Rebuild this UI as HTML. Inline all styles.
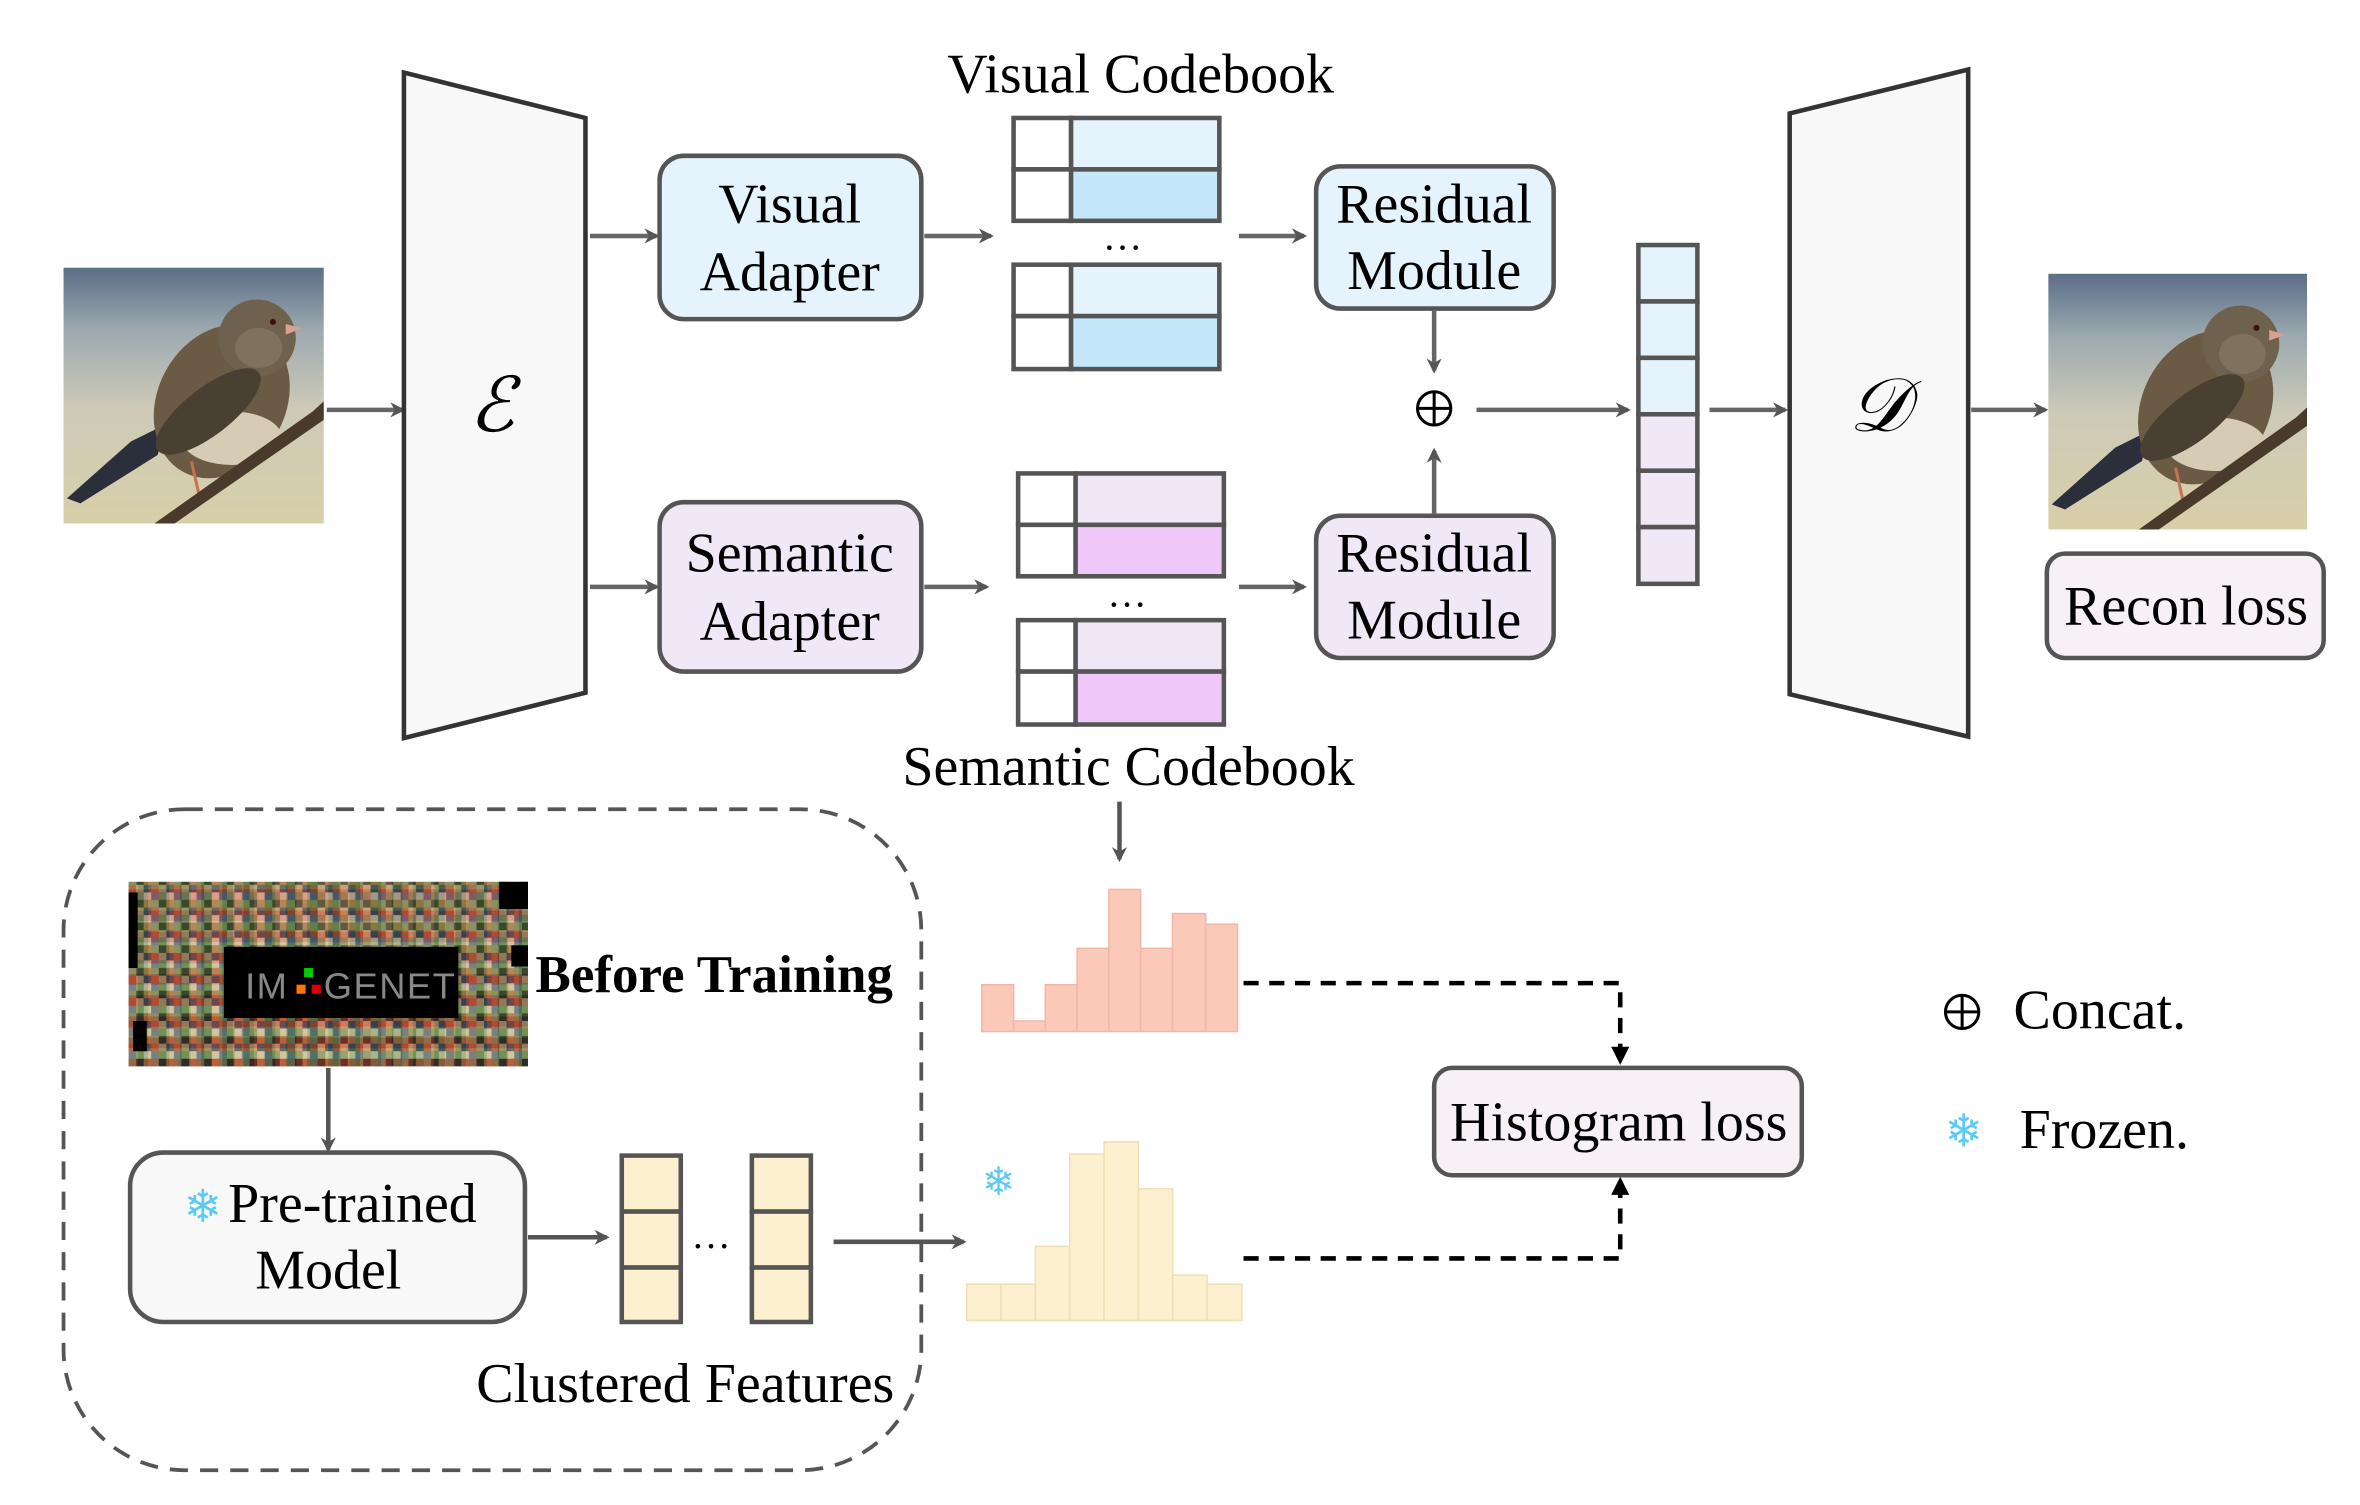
<!DOCTYPE html>
<html><head><meta charset="utf-8"><style>
html,body{margin:0;padding:0;background:#fff;}
svg{display:block;}
text{font-family:"Liberation Serif","DejaVu Serif",serif;fill:#000;}
</style></head><body>
<svg width="2360" height="1505" viewBox="0 0 1560 995" preserveAspectRatio="none" xmlns="http://www.w3.org/2000/svg">
<defs>
<marker id="ag" markerWidth="10" markerHeight="10" refX="8" refY="5" orient="auto" markerUnits="userSpaceOnUse">
<path d="M0,0 L10,5 L0,10 L3,5 Z" fill="#555"/></marker>
<marker id="ab" markerWidth="12" markerHeight="12" refX="10" refY="6" orient="auto" markerUnits="userSpaceOnUse">
<path d="M0,0 L12,6 L0,12 Z" fill="#000"/></marker>
<linearGradient id="sky" x1="0" y1="0" x2="0" y2="1">
<stop offset="0" stop-color="#5a6e86"/><stop offset="0.25" stop-color="#9eaab0"/><stop offset="0.55" stop-color="#cdcab8"/><stop offset="1" stop-color="#d8cfa8"/></linearGradient>
<pattern id="mos" width="15" height="15" patternUnits="userSpaceOnUse">
<rect width="15" height="15" fill="#6b5a44"/>
<rect x="0" y="0" width="5" height="5" fill="#c8a070"/><rect x="5" y="0" width="5" height="5" fill="#3a4a5a"/><rect x="10" y="0" width="5" height="5" fill="#a05030"/>
<rect x="0" y="5" width="5" height="5" fill="#8a9a60"/><rect x="5" y="5" width="5" height="5" fill="#e0d0b0"/><rect x="10" y="5" width="5" height="5" fill="#506a80"/>
<rect x="0" y="10" width="5" height="5" fill="#302820"/><rect x="5" y="10" width="5" height="5" fill="#b07040"/><rect x="10" y="10" width="5" height="5" fill="#708050"/>
</pattern>
<pattern id="mos2" width="14" height="14" patternUnits="userSpaceOnUse">
<rect x="0" y="0" width="7" height="7" fill="#d04030"/><rect x="7" y="7" width="7" height="7" fill="#4a8040"/>
<rect x="7" y="0" width="7" height="7" fill="#303030"/><rect x="0" y="7" width="7" height="7" fill="#c0b080"/>
</pattern>
<g id="bird">
<rect x="0" y="0" width="773" height="765" fill="url(#sky)"/>
<polygon points="10,690 200,520 300,470 280,560 50,705" fill="#2b2f3b"/>
<ellipse cx="470" cy="400" rx="190" ry="240" transform="rotate(28 470 400)" fill="#6b5b45"/>
<ellipse cx="500" cy="510" rx="150" ry="80" fill="#d6cbb5"/>
<circle cx="575" cy="210" r="115" fill="#6e614d"/>
<ellipse cx="580" cy="240" rx="70" ry="60" fill="#7e725e"/>
<ellipse cx="430" cy="430" rx="190" ry="70" transform="rotate(-38 430 430)" fill="#4a4032"/>
<polygon points="660,168 708,182 660,200" fill="#d8a090"/>
<circle cx="622" cy="162" r="9" fill="#401010"/>
<line x1="380" y1="580" x2="405" y2="690" stroke="#c87050" stroke-width="9"/>
<polygon points="270,765 740,430 773,400 773,455 330,765" fill="#4a3a2c"/>
</g>
</defs>

<use href="#bird" transform="translate(42,177) scale(0.2225,0.221)"/>
<line x1="216" y1="271" x2="266" y2="271" stroke="#666" stroke-width="3" marker-end="url(#ag)"/>

<polygon points="267,48 387,78 387,458 267,488" fill="#f8f8f8" stroke="#333" stroke-width="3"/>
<text x="325" y="285" font-size="50" font-style="italic" text-anchor="middle">ℰ</text>

<line x1="390" y1="156" x2="434" y2="156" stroke="#666" stroke-width="3" marker-end="url(#ag)"/>
<line x1="390" y1="388" x2="434" y2="388" stroke="#666" stroke-width="3" marker-end="url(#ag)"/>

<rect x="436" y="103" width="173" height="108" rx="16" fill="#e5f4fc" stroke="#555" stroke-width="3"/>
<text x="522" y="147" font-size="37" text-anchor="middle">Visual</text>
<text x="522" y="192" font-size="37" text-anchor="middle">Adapter</text>
<rect x="436" y="332" width="173" height="112" rx="16" fill="#f0e8f7" stroke="#555" stroke-width="3"/>
<text x="522" y="378" font-size="37" text-anchor="middle">Semantic</text>
<text x="522" y="423" font-size="37" text-anchor="middle">Adapter</text>

<line x1="611" y1="156" x2="655" y2="156" stroke="#666" stroke-width="3" marker-end="url(#ag)"/>
<line x1="611" y1="388" x2="652" y2="388" stroke="#666" stroke-width="3" marker-end="url(#ag)"/>

<text x="754" y="61" font-size="37" text-anchor="middle">Visual Codebook</text>
<g stroke="#555" stroke-width="3">
<rect x="670" y="78" width="38" height="34" fill="#fff"/><rect x="708" y="78" width="98" height="34" fill="#e5f4fc"/>
<rect x="670" y="112" width="38" height="34" fill="#fff"/><rect x="708" y="112" width="98" height="34" fill="#c4e8fa"/>
<rect x="670" y="175" width="38" height="34" fill="#fff"/><rect x="708" y="175" width="98" height="34" fill="#e5f4fc"/>
<rect x="670" y="209" width="38" height="35" fill="#fff"/><rect x="708" y="209" width="98" height="35" fill="#c4e8fa"/>
</g>
<text x="742" y="165" font-size="26" text-anchor="middle">…</text>

<g stroke="#555" stroke-width="3">
<rect x="673" y="313" width="38" height="34" fill="#fff"/><rect x="711" y="313" width="98" height="34" fill="#efe7f6"/>
<rect x="673" y="347" width="38" height="34" fill="#fff"/><rect x="711" y="347" width="98" height="34" fill="#efc8f9"/>
<rect x="673" y="410" width="38" height="34" fill="#fff"/><rect x="711" y="410" width="98" height="34" fill="#efe7f6"/>
<rect x="673" y="444" width="38" height="35" fill="#fff"/><rect x="711" y="444" width="98" height="35" fill="#efc8f9"/>
</g>
<text x="745" y="401" font-size="26" text-anchor="middle">…</text>
<text x="746" y="519" font-size="37" text-anchor="middle">Semantic Codebook</text>

<line x1="819" y1="156" x2="862" y2="156" stroke="#666" stroke-width="3" marker-end="url(#ag)"/>
<line x1="819" y1="388" x2="862" y2="388" stroke="#666" stroke-width="3" marker-end="url(#ag)"/>

<rect x="870" y="110" width="157" height="94" rx="16" fill="#e5f4fc" stroke="#555" stroke-width="3"/>
<text x="948" y="147" font-size="37" text-anchor="middle">Residual</text>
<text x="948" y="191" font-size="37" text-anchor="middle">Module</text>
<rect x="870" y="341" width="157" height="94" rx="16" fill="#f0e8f7" stroke="#555" stroke-width="3"/>
<text x="948" y="378" font-size="37" text-anchor="middle">Residual</text>
<text x="948" y="422" font-size="37" text-anchor="middle">Module</text>

<line x1="948" y1="205" x2="948" y2="245" stroke="#666" stroke-width="3" marker-end="url(#ag)"/>
<line x1="948" y1="340" x2="948" y2="298" stroke="#666" stroke-width="3" marker-end="url(#ag)"/>
<circle cx="948" cy="270" r="11" fill="none" stroke="#000" stroke-width="2"/>
<line x1="937" y1="270" x2="959" y2="270" stroke="#000" stroke-width="2"/><line x1="948" y1="259" x2="948" y2="281" stroke="#000" stroke-width="2"/>
<line x1="976" y1="271" x2="1076" y2="271" stroke="#666" stroke-width="3" marker-end="url(#ag)"/>

<g stroke="#555" stroke-width="3">
<rect x="1083" y="162" width="39" height="37.3" fill="#e5f4fc"/>
<rect x="1083" y="199.3" width="39" height="37.3" fill="#e5f4fc"/>
<rect x="1083" y="236.6" width="39" height="37.3" fill="#e5f4fc"/>
<rect x="1083" y="273.9" width="39" height="37.3" fill="#f0e8f7"/>
<rect x="1083" y="311.2" width="39" height="37.3" fill="#f0e8f7"/>
<rect x="1083" y="348.5" width="39" height="37.5" fill="#f0e8f7"/>
</g>
<line x1="1130" y1="271" x2="1180" y2="271" stroke="#666" stroke-width="3" marker-end="url(#ag)"/>

<polygon points="1183,75 1301,46 1301,487 1183,459" fill="#f8f8f8" stroke="#333" stroke-width="3"/>
<text x="1242" y="285" font-size="50" font-style="italic" text-anchor="middle">𝒟</text>
<line x1="1303" y1="271" x2="1352" y2="271" stroke="#666" stroke-width="3" marker-end="url(#ag)"/>

<use href="#bird" transform="translate(1354,181) scale(0.2212,0.221)"/>
<rect x="1353" y="366" width="183" height="69" rx="12" fill="#f7f1f6" stroke="#555" stroke-width="3"/>
<text x="1445" y="413" font-size="37" text-anchor="middle">Recon loss</text>

<rect x="42" y="535" width="567" height="437" rx="80" fill="none" stroke="#555" stroke-width="2.5" stroke-dasharray="12 8"/>

<rect x="85" y="583" width="264" height="122" fill="url(#mos)"/>
<rect x="85" y="583" width="264" height="122" fill="url(#mos2)" opacity="0.35"/>
<rect x="85" y="590" width="6" height="50" fill="#000"/><rect x="330" y="583" width="19" height="18" fill="#000"/>
<rect x="338" y="625" width="11" height="14" fill="#000"/><rect x="88" y="675" width="9" height="20" fill="#000"/>
<rect x="148" y="626" width="155" height="47" fill="#000"/>
<text x="162" y="660" font-size="24" style="fill:#888;font-family:'Liberation Sans',sans-serif" letter-spacing="1">IM</text>
<rect x="201" y="640" width="6" height="6" fill="#0c0"/><rect x="196" y="651" width="6" height="6" fill="#f70"/><rect x="206" y="651" width="6" height="6" fill="#d00"/>
<text x="214" y="660" font-size="24" style="fill:#888;font-family:'Liberation Sans',sans-serif" letter-spacing="1">GENET</text>

<text x="354" y="656" font-size="35" font-weight="bold">Before Training</text>
<line x1="217" y1="706" x2="217" y2="760" stroke="#555" stroke-width="3" marker-end="url(#ag)"/>

<rect x="86" y="762" width="261" height="112" rx="22" fill="#f8f8f8" stroke="#555" stroke-width="3"/>
<text x="134" y="808" font-size="30" text-anchor="middle" style="fill:#5bcbf5">❄</text>
<text x="233" y="808" font-size="37" text-anchor="middle">Pre-trained</text>
<text x="217" y="852" font-size="37" text-anchor="middle">Model</text>
<line x1="349" y1="818" x2="401" y2="818" stroke="#555" stroke-width="3" marker-end="url(#ag)"/>

<g stroke="#555" stroke-width="3" fill="#fdf0cf">
<rect x="411" y="764" width="39" height="37"/><rect x="411" y="801" width="39" height="37"/><rect x="411" y="838" width="39" height="36"/>
<rect x="497" y="764" width="39" height="37"/><rect x="497" y="801" width="39" height="37"/><rect x="497" y="838" width="39" height="36"/>
</g>
<text x="470" y="825" font-size="26" text-anchor="middle">…</text>
<text x="453" y="927" font-size="37" text-anchor="middle">Clustered Features</text>
<line x1="551" y1="821" x2="637" y2="821" stroke="#555" stroke-width="3" marker-end="url(#ag)"/>

<line x1="740" y1="530" x2="740" y2="568" stroke="#555" stroke-width="3" marker-end="url(#ag)"/>

<g fill="#fcc8b8" stroke="#f2b6a6" stroke-width="1">
<rect x="649" y="651" width="21" height="31"/><rect x="670" y="675" width="21" height="7"/>
<rect x="691" y="651" width="21" height="31"/><rect x="712" y="627" width="21" height="55"/>
<rect x="733" y="588" width="21" height="94"/><rect x="754" y="627" width="21" height="55"/>
<rect x="775" y="604" width="22" height="78"/><rect x="797" y="611" width="21" height="71"/>
</g>
<g fill="#fdf0cf" stroke="#efdfb5" stroke-width="1">
<rect x="639" y="849" width="22.7" height="24"/><rect x="661.7" y="849" width="22.7" height="24"/>
<rect x="684.4" y="824" width="22.7" height="49"/><rect x="707.1" y="763" width="22.7" height="110"/>
<rect x="729.8" y="755" width="22.7" height="118"/><rect x="752.5" y="786" width="22.7" height="87"/>
<rect x="775.2" y="843" width="22.7" height="30"/><rect x="797.9" y="849" width="23" height="24"/>
</g>
<text x="660" y="790" font-size="26" text-anchor="middle" style="fill:#5bcbf5">❄</text>

<polyline points="822,650 1071,650 1071,702" fill="none" stroke="#000" stroke-width="3" stroke-dasharray="10 7" marker-end="url(#ab)"/>
<polyline points="822,832 1071,832 1071,780" fill="none" stroke="#000" stroke-width="3" stroke-dasharray="10 7" marker-end="url(#ab)"/>

<rect x="948" y="706" width="243" height="71" rx="12" fill="#f7f1f6" stroke="#555" stroke-width="3"/>
<text x="1070" y="754" font-size="37" text-anchor="middle">Histogram loss</text>

<circle cx="1297" cy="669" r="11" fill="none" stroke="#000" stroke-width="2"/>
<line x1="1286" y1="669" x2="1308" y2="669" stroke="#000" stroke-width="2"/><line x1="1297" y1="658" x2="1297" y2="680" stroke="#000" stroke-width="2"/>
<text x="1331" y="680" font-size="37">Concat.</text>
<text x="1298" y="758" font-size="30" text-anchor="middle" style="fill:#5bcbf5">❄</text>
<text x="1335" y="759" font-size="37">Frozen.</text>
</svg>
</body></html>
